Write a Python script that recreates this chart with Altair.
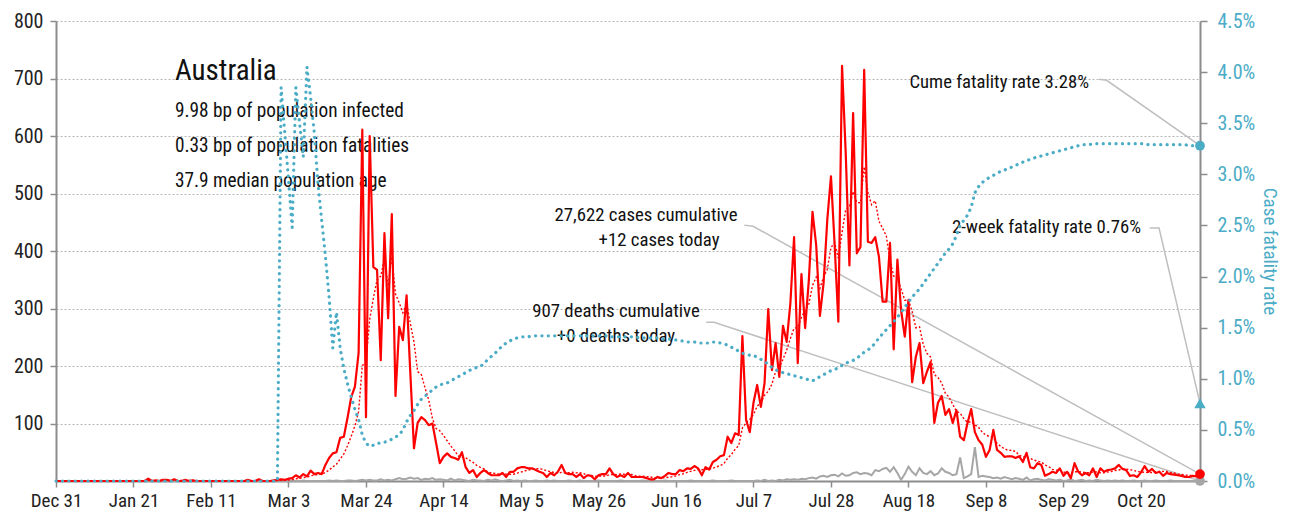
import json
import altair as alt
import pandas as pd

# ---------------- data ----------------
country = "Australia"
stats_lines = [
    "9.98 bp of population infected",
    "0.33 bp of population fatalities",
    "37.9 median population age",
]
total_cases = 27622
today_cases = 12
total_deaths = 907
today_deaths = 0
cume_cfr = 3.28
two_week_cfr = 0.76

tick_days = [0, 21, 42, 63, 84, 105, 126, 147, 168, 189, 210, 231, 252, 273, 294]
tick_labels = ["Dec 31", "Jan 21", "Feb 11", "Mar 3", "Mar 24", "Apr 14", "May 5",
               "May 26", "Jun 16", "Jul 7", "Jul 28", "Aug 18", "Sep 8", "Sep 29", "Oct 20"]
left_ticks = [100, 200, 300, 400, 500, 600, 700, 800]
right_ticks = [0, 0.5, 1.0, 1.5, 2.0, 2.5, 3.0, 3.5, 4.0, 4.5]

# daily new cases, one value per day starting Dec 31
cases = ([0] * 25 +
         [4, 0, 1, 0, 2, 2, 0, 3, 0, 0, 2, 0, 1, 0, 0, 0, 0, 0, 0, 0, 0, 0, 0, 0, 0,
          0, 0, 2, 0, 0, 3, 0, 0, 0, 1] +
         [2, 3, 2, 4, 5, 10, 6, 12, 8, 18, 12, 14, 12, 28, 40, 48, 50, 75, 77, 110,
          146, 164, 223, 611, 111, 600, 372, 367, 210, 431, 283, 464, 148, 268, 245,
          323, 190, 57, 101, 111] +
         [106, 97, 100, 66, 31, 42, 48, 42, 40, 37, 50, 24, 14, 19, 7, 14, 19, 14, 10, 10,
          10, 14, 7, 16, 16, 22, 24, 24, 22, 22, 19, 16, 14, 7, 14, 10, 16, 28, 14, 12] +
         [12, 7, 12, 5, 10, 9, 3, 10, 12, 12, 22, 12, 7, 10, 7, 14, 7, 7, 7, 7,
          5, 3, 3, 7, 5, 9, 14, 12, 12, 19, 17, 22, 21, 26, 22, 10, 24, 20, 33, 37] +
         [43, 45, 77, 66, 83, 80, 252, 106, 85, 136, 167, 129, 170, 299, 193, 240, 181, 270, 242, 309,
          424, 205, 360, 266, 349, 468, 410, 287, 344, 454, 530, 410, 277, 722, 570, 375, 640, 396, 407, 715] +
         [416, 414, 424, 390, 312, 312, 414, 229, 385, 297, 251, 315, 172, 216, 240, 170, 190, 207, 101, 136,
          148, 115, 125, 101, 123, 77, 71, 101, 125, 85, 71, 63, 42, 54, 89, 54, 49, 42, 43, 43] +
         [40, 43, 33, 49, 24, 22, 31, 28, 9, 12, 16, 14, 22, 9, 16, 5, 31, 16, 10, 14,
          10, 22, 7, 22, 16, 19, 20, 22, 28, 21, 19, 9, 10, 7, 15, 26, 16, 21, 14, 16,
          9, 14, 12, 11, 10, 9, 7, 7, 9, 8, 12])

# daily deaths
deaths = ([0] * 61 +
          [1, 0, 0, 1, 0, 0, 1, 0, 0, 0, 0, 0, 0, 1, 0, 1, 0, 0, 1, 1,
           0, 1, 2, 1, 2, 1, 1, 3, 1, 2, 1, 3, 5, 3, 4, 6, 4, 5, 2] +
          [4, 3, 5, 2, 3, 2, 1, 4, 1, 3, 2, 1, 0, 2, 1, 1, 0, 2, 1, 3,
           1, 0, 1, 2, 0, 1, 0, 1, 0, 0, 1, 0, 0, 1, 0, 1, 0, 0, 0, 1] +
          [0, 0, 1, 0, 0, 0, 0, 1, 0, 0, 0, 0, 0, 1, 0, 0, 0, 0, 0, 1,
           0, 0, 0, 0, 0, 1, 0, 0, 0, 0, 0, 0, 1, 0, 0, 0, 0, 0, 1, 0] +
          [0, 0, 0, 1, 0, 0, 0, 0, 0, 0, 1, 0, 2, 0, 1, 0, 2, 1, 3, 2,
           3, 2, 4, 3, 5, 6, 4, 8, 9, 7, 10, 11, 8, 13, 9, 10, 14, 15, 12, 14] +
          [13, 10, 19, 17, 21, 23, 16, 24, 14, 2, 12, 25, 16, 10, 22, 14, 12, 17, 10, 13,
           22, 16, 14, 10, 12, 41, 5, 8, 12, 59, 7, 9, 8, 7, 5, 6, 4, 7, 5, 3] +
          [5, 4, 2, 6, 1, 3, 4, 2, 1, 3, 2, 1, 2, 0, 1, 3, 0, 1, 2, 0,
           1, 0, 2, 1, 0, 1, 0, 1, 0, 1, 0, 0, 1, 0, 0, 1, 0, 0, 1, 0,
           0, 0, 1, 0, 0, 0, 0, 0, 0, 0, 0])

# cumulative case fatality rate, percent
cfr = ([0.0] * 61 +
       [3.85, 3.4, 2.95, 2.48, 3.85, 3.5, 3.17, 4.05, 3.75, 3.4, 2.9, 2.55, 2.2, 1.8, 1.3,
        1.65, 1.3, 1.1, 0.95, 0.82, 0.7, 0.6, 0.45, 0.37, 0.34, 0.35, 0.37, 0.37, 0.38, 0.39,
        0.41, 0.43, 0.45, 0.5, 0.58, 0.64, 0.69, 0.75, 0.8] +
       [0.83, 0.86, 0.89, 0.92, 0.94, 0.95, 0.96, 0.98, 1.0, 1.02, 1.04, 1.06, 1.08, 1.1, 1.11,
        1.12, 1.15, 1.19, 1.22, 1.25, 1.29, 1.32, 1.35, 1.37, 1.39, 1.40, 1.41, 1.41, 1.41, 1.42,
        1.42, 1.42, 1.42, 1.42, 1.42, 1.42, 1.42, 1.42, 1.42, 1.42] +
       [1.42, 1.42, 1.42, 1.42, 1.42, 1.42, 1.42, 1.42, 1.42, 1.42, 1.41, 1.41, 1.41, 1.41, 1.41,
        1.41, 1.41, 1.41, 1.40, 1.40, 1.40, 1.40, 1.40, 1.40, 1.39, 1.39, 1.39, 1.38, 1.38, 1.37,
        1.37, 1.36, 1.36, 1.36, 1.35, 1.35, 1.35, 1.35, 1.36, 1.36] +
       [1.35, 1.34, 1.33, 1.31, 1.29, 1.27, 1.25, 1.24, 1.23, 1.23, 1.21, 1.19, 1.17, 1.14, 1.11,
        1.09, 1.07, 1.06, 1.05, 1.04, 1.03, 1.02, 1.01, 1.0, 0.99, 0.98, 1.0, 1.02, 1.04, 1.06,
        1.08, 1.09, 1.11, 1.13, 1.15, 1.17, 1.18, 1.2, 1.23, 1.26] +
       [1.28, 1.31, 1.35, 1.4, 1.44, 1.48, 1.52, 1.56, 1.6, 1.65, 1.7, 1.75, 1.8, 1.84, 1.88,
        1.93, 1.98, 2.03, 2.08, 2.13, 2.18, 2.23, 2.27, 2.32, 2.4, 2.5, 2.55, 2.6, 2.68, 2.82,
        2.88, 2.92, 2.95, 2.97, 2.99, 3.01, 3.03, 3.04, 3.06, 3.07] +
       [3.09, 3.10, 3.12, 3.13, 3.15, 3.16, 3.17, 3.18, 3.19, 3.20, 3.21, 3.22, 3.23, 3.24, 3.25,
        3.26, 3.27, 3.28, 3.29, 3.29, 3.29, 3.30, 3.30, 3.30, 3.30, 3.30, 3.30, 3.30, 3.30, 3.30,
        3.30, 3.30, 3.30, 3.30, 3.30, 3.30, 3.29, 3.29, 3.29, 3.29, 3.29, 3.29, 3.29, 3.29, 3.29,
        3.29, 3.29, 3.28, 3.28, 3.28, 3.28])

# ---------------- styling ----------------
FONT = "Roboto Condensed, Liberation Sans Narrow, Roboto, sans-serif"
RED = "#FF0000"
TEAL = "#4BACC6"
DEATH_GRAY = "#A6A6A6"
LEADER = "#BFBFBF"
AXIS_GRAY = "#8C8C8C"
TXT = "#111111"

n_days = len(cases)
df = pd.DataFrame({"day": list(range(n_days)), "cases": cases, "deaths": deaths, "cfr": cfr})
last = df.tail(1)

x_scale = alt.Scale(domain=[0, n_days - 1], nice=False, zero=False)
x_axis = alt.Axis(values=tick_days,
                  labelExpr=json.dumps(tick_labels) + "[round(datum.value / 21)]",
                  grid=False, domainColor=AXIS_GRAY, domainWidth=2, tickColor=AXIS_GRAY,
                  tickSize=6, tickWidth=1.5, labelFontSize=19, labelColor="#222",
                  labelPadding=4, labelFont=FONT, title=None, labelFlush=False)


def X(field="day"):
    return alt.X(f"{field}:Q", scale=x_scale, axis=x_axis)


yl_scale = alt.Scale(domain=[0, 800], nice=False, zero=True)
yl_axis = alt.Axis(values=left_ticks, orient="left", grid=True, gridDash=[2, 2],
                   gridColor="#B5B5B5", gridWidth=1, domainColor=AXIS_GRAY, domainWidth=2,
                   tickColor=AXIS_GRAY, tickSize=6, tickWidth=1.5, labelFontSize=20,
                   labelColor="#222", labelPadding=7, labelFont=FONT, title=None)


def YL(field):
    return alt.Y(f"{field}:Q", scale=yl_scale, axis=yl_axis)


yr_scale = alt.Scale(domain=[0, 4.5], nice=False, zero=True)
yr_axis = alt.Axis(values=right_ticks, orient="right", grid=False,
                   labelExpr="format(datum.value, '.1f') + '%'",
                   domainColor=AXIS_GRAY, domainWidth=2, tickColor=AXIS_GRAY, tickSize=7,
                   tickWidth=1.5, labelFontSize=20, labelColor=TEAL, labelPadding=10,
                   labelFont=FONT, title="Case fatality rate", titleColor=TEAL,
                   titleFontSize=19, titleFont=FONT, titleFontWeight="normal", titlePadding=5)


def YR(field):
    return alt.Y(f"{field}:Q", scale=yr_scale, axis=yr_axis)


base = alt.Chart(df)

# ---- left-axis layers ----
cases_line = base.mark_line(color=RED, strokeWidth=2.2, strokeJoin="round").encode(
    x=X(), y=YL("cases"))
avg_line = base.transform_window(
    avg7="mean(cases)", frame=[-6, 0], sort=[alt.SortField("day")]
).mark_line(color=RED, strokeWidth=1.4, strokeDash=[2, 2]).encode(x=X(), y=YL("avg7"))
deaths_line = base.mark_line(color=DEATH_GRAY, strokeWidth=2).encode(x=X(), y=YL("deaths"))

case_leader = alt.Chart(pd.DataFrame({"day": [186.5, 188.9, n_days - 1],
                                      "v": [445, 443, cases[-1]]})).mark_line(
    color=LEADER, strokeWidth=1.5).encode(x=X(), y=YL("v"))
death_leader = alt.Chart(pd.DataFrame({"day": [176.2, 178.3, n_days - 1],
                                       "v": [276, 276, deaths[-1]]})).mark_line(
    color=LEADER, strokeWidth=1.5).encode(x=X(), y=YL("v"))

red_dot = alt.Chart(last).mark_circle(color=RED, size=95, opacity=1).encode(x=X(), y=YL("cases"))
gray_dot = alt.Chart(last).mark_circle(color=DEATH_GRAY, size=95, opacity=1).encode(x=X(), y=YL("deaths"))

left = alt.layer(case_leader, death_leader, deaths_line, avg_line, cases_line, gray_dot, red_dot)

# ---- right-axis layers ----
cfr_line = base.mark_line(color=TEAL, strokeWidth=3.2, strokeDash=[0.1, 6.3],
                          strokeCap="round").encode(x=X(), y=YR("cfr"))
cume_leader = alt.Chart(pd.DataFrame({"day": [282.6, 284.7, n_days - 1],
                                      "v": [3.93, 3.92, cume_cfr]})).mark_line(
    color=LEADER, strokeWidth=1.5).encode(x=X(), y=YR("v"))
wk_leader = alt.Chart(pd.DataFrame({"day": [296.4, 298.9, n_days - 1],
                                    "v": [2.475, 2.475, two_week_cfr]})).mark_line(
    color=LEADER, strokeWidth=1.5).encode(x=X(), y=YR("v"))
cume_dot = alt.Chart(pd.DataFrame({"day": [n_days - 1], "v": [cume_cfr]})).mark_circle(
    color=TEAL, size=95, opacity=1).encode(x=X(), y=YR("v"))
wk_tri = alt.Chart(pd.DataFrame({"day": [n_days - 1], "v": [two_week_cfr]})).mark_point(
    shape="triangle-up", filled=True, color=TEAL, size=130, opacity=1).encode(x=X(), y=YR("v"))

right = alt.layer(cfr_line, cume_leader, wk_leader, cume_dot, wk_tri)


# ---- text annotations ----
def label(text, x, y, size, align="left", color=TXT):
    return alt.Chart(pd.DataFrame({"t": [text]})).mark_text(
        align=align, baseline="alphabetic", fontSize=size, font=FONT, color=color
    ).encode(x=alt.value(x), y=alt.value(y), text="t:N")


texts = [
    label(country, 119, 59, 29),
    label(stats_lines[0], 119, 96, 19.3),
    label(stats_lines[1], 119, 131, 19.3),
    label(stats_lines[2], 119, 166, 19.3),
    label(f"Cume fatality rate {cume_cfr:.2f}%", 1033, 67, 18.7, "right"),
    label(f"2-week fatality rate {two_week_cfr:.2f}%", 1085, 212, 18.7, "right"),
    label(f"{total_cases:,} cases cumulative", 590, 200, 18.8, "center"),
    label(f"+{today_cases} cases today", 603, 225, 18.8, "center"),
    label(f"{total_deaths:,} deaths cumulative", 560, 296, 18.8, "center"),
    label(f"+{today_deaths} deaths today", 560, 321, 18.8, "center"),
]

chart = alt.layer(*texts, left, right).resolve_scale(y="independent").properties(
    width=1144, height=460,
    padding={"left": 48, "top": 13, "right": 81, "bottom": 31},
    autosize=alt.AutoSizeParams(type="none"),
    background="white",
).configure_view(stroke=None)

chart.save("out.html", embed_options={"renderer": "svg", "actions": False})
